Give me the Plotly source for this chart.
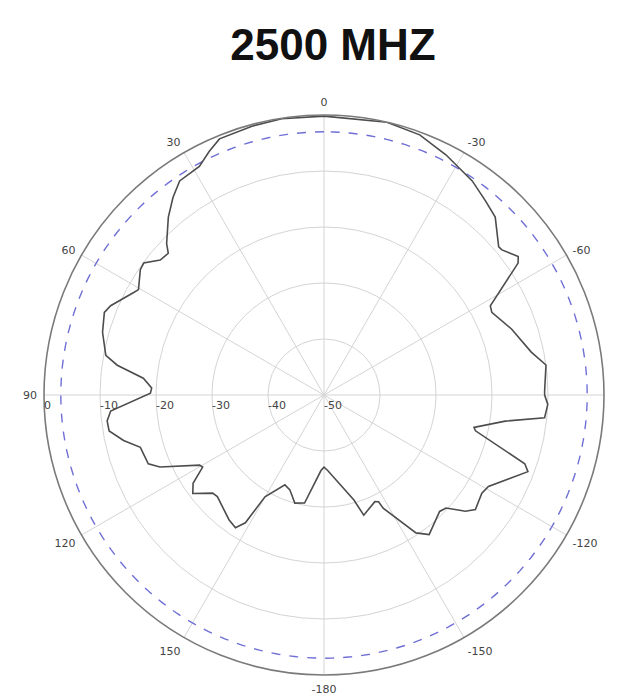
import plotly.graph_objects as go

# Measured pattern (angle in degrees, CCW from top; gain in dB)
theta_deg = [0, 8.7, 15, 22.2, 25.2, 28.6, 34, 37.4, 41.2, 46.1, 47.7, 50.5, 53.8, 55.7, 60.4,
             61.7, 67.3, 69.4, 74.2, 79.7, 81.8, 84.7, 87.7, 89.4, 94.3, 96.8, 99.5, 102.8,
             105.9, 111.4, 113.7, 119.4, 120.7, 124, 126.9, 131.4, 133.6, 142.7, 146.3, 148.4,
             149.9, 156.5, 160.2, 164.9, 169.8, 177.7, 180,
             182.8, 195.9, 198.3, 205.5, 207.1, 207.6, 213.7, 217, 224.8, 227.2, 230.6, 232.9,
             238.1, 240.9, 249.4, 251.1, 256.7, 257.8, 261.8, 264.1, 267.6, 270, 271, 277.7,
             281.7, 289.4, 296.2, 298.2, 304.2, 305.5, 309.2, 310.3, 316.1, 320.3, 325.3,
             329.3, 333.1, 339.8, 347, 360]
gain_db = [-0.2, -0.1, -0.3, -0.6, -1.9, -3.5, -3.9, -5.6, -7.8, -11.0, -12.4, -12.1, -10.1, -10.3, -11.9,
           -11.4, -8.7, -8.1, -8.9, -10.4, -12.7, -17.6, -19.2, -19.0, -11.8, -11.0, -11.1, -13.3,
           -15.9, -16.3, -18.0, -24.5, -24.8, -21.8, -20.7, -23.5, -23.7, -22.0, -21.5, -23.2,
           -29.0, -32.5, -32.0, -30.0, -30.4, -36.5, -37.1,
           -36.5, -30.5, -27.4, -28.9, -28.6, -27.2, -20.4, -18.8, -20.7, -20.3, -17.3, -16.1,
           -16.8, -16.4, -11.1, -12.1, -22.2, -22.6, -17.3, -10.4, -10.0, -10.6, -10.6, -10.0,
           -12.2, -14.5, -16.6, -16.3, -8.1, -7.4, -9.0, -9.1, -5.9, -4.9, -3.5,
           -2.8, -1.9, -0.5, 0.0, -0.2]

ref_level_db = -3  # dashed reference circle
ref_theta = list(range(0, 361, 2))
ref_r = [ref_level_db] * len(ref_theta)

angle_ticks = [0, 30, 60, 90, 120, 150, 180, 210, 240, 270, 300, 330]
angle_labels = ["0", "30", "60", "90", "120", "150", "-180", "-150", "-120", "-90", "-60", "-30"]
radial_ticks = [-50, -40, -30, -20, -10, 0]
radial_labels = ["-50", "-40", "-30", "-20", "-10", "0"]

fig = go.Figure()
fig.add_trace(go.Scatterpolar(r=ref_r, theta=ref_theta, mode="lines",
                              line=dict(color="#6f6fd6", width=1.4, dash="dash"),
                              hoverinfo="skip", showlegend=False))
fig.add_trace(go.Scatterpolar(r=gain_db, theta=theta_deg, mode="lines",
                              line=dict(color="#4d4d4d", width=1.6),
                              showlegend=False))

fig.update_layout(
    width=619, height=696,
    paper_bgcolor="white",
    margin=dict(l=36, r=23, t=107, b=29),
    title=dict(text="<b>2500 MHZ</b>", x=0.525, xanchor="center", y=1 - 37/696,
               yref="container", yanchor="middle",
               font=dict(family="Liberation Sans, Arial", size=44, color="#111")),
    font=dict(family="DejaVu Sans", size=11, color="#444"),
    polar=dict(
        bgcolor="white",
        domain=dict(x=[0, 1], y=[0, 1]),
        angularaxis=dict(rotation=90, direction="counterclockwise",
                         tickmode="array", tickvals=angle_ticks, ticktext=angle_labels,
                         showline=True, linecolor="#7a7a7a", linewidth=1.6,
                         gridcolor="#d4d4d4", gridwidth=1,
                         ticks="outside", ticklen=4, tickcolor="rgba(0,0,0,0)",
                         tickfont=dict(size=11, color="#444")),
        radialaxis=dict(range=[-50, 0], angle=180, tickangle=180,
                        tickmode="array", tickvals=radial_ticks, ticktext=radial_labels,
                        showline=False, ticks="", gridcolor="#d4d4d4", gridwidth=1,
                        side="counterclockwise",
                        tickfont=dict(size=11, color="#444")),
    ),
)

fig.write_html("out.html")
